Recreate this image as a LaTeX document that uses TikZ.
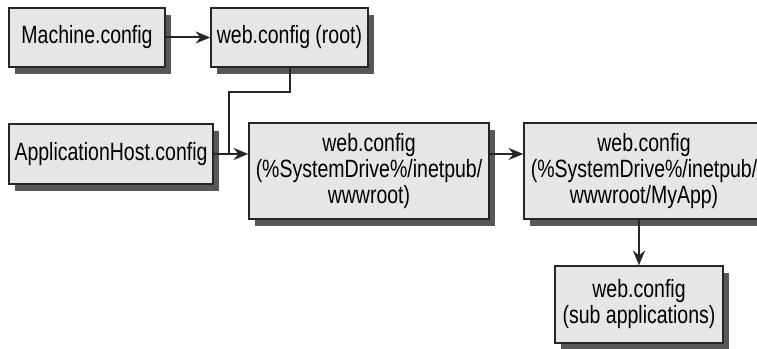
\documentclass[tikz,border=0pt]{standalone}
\usepackage{fontspec}
\setmainfont{Liberation Sans}[FakeStretch=0.78]
\usetikzlibrary{arrows.meta,shadows}
\definecolor{boxfill}{RGB}{230,230,232}
\definecolor{boxshadow}{RGB}{88,88,90}
\begin{document}
\begin{tikzpicture}[x=0.75pt, y=-0.75pt,
    font=\fontsize{18.75pt}{19.5pt}\selectfont,
    configbox/.style ={rectangle, draw=black!85, line width=1.1pt, fill=boxfill,
      align=center, inner sep=2pt,
      drop shadow={shadow xshift=4.5pt, shadow yshift=-5pt, fill=boxshadow, opacity=1}},
    link/.style ={line width=1.5pt, black!85},
    arrow/.style ={link, -{Stealth[length=11pt, width=9pt]}}]
   \useasboundingbox (0,0) rectangle (757,349);
   \node[configbox, minimum width=117pt, minimum height=44.25pt] (machine) at (87,37.5) {Machine.config};
   \node[configbox, minimum width=117.75pt, minimum height=44.25pt] (root) at (289.5,37.5) {web.config (root)};
   \node[configbox, minimum width=153pt, minimum height=45pt] (apphost) at (111,154) {ApplicationHost.config};
   \node[configbox, minimum width=180pt, minimum height=72pt] (wwwroot) at (369,171) {web.config\\(\%SystemDrive\%/inetpub/\\wwwroot)};
   \node[configbox, minimum width=180pt, minimum height=72pt] (myapp) at (644,171) {web.config\\(\%SystemDrive\%/inetpub/\\wwwroot/MyApp)};
   \node[configbox, minimum width=126pt, minimum height=57.75pt] (subapps) at (639,304.5) {web.config\\(sub applications)};
   \coordinate (bend) at (229,92);
   \draw[arrow] (machine) to (root);
   \draw[link] (root.south) |- (bend) -- (bend |- apphost.east);
   \draw[arrow] (apphost.east) to (apphost.east -| wwwroot.west);
   \draw[arrow] (wwwroot.east |- apphost.east) to (myapp.west |- apphost.east);
   \draw[arrow] (myapp.south -| subapps.north) to (subapps.north);
 \end{tikzpicture}
\end{document}
